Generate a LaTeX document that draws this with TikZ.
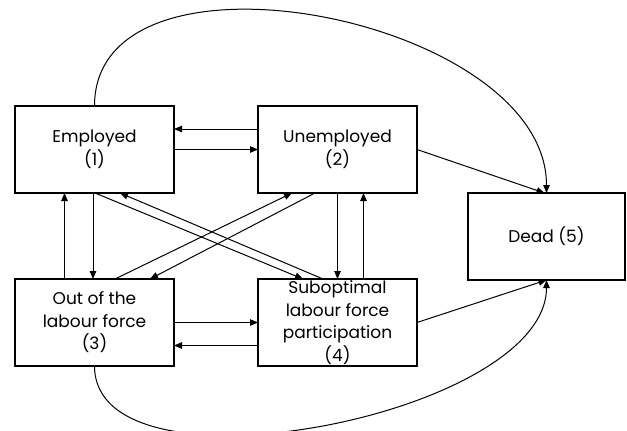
\documentclass[tikz,border=0pt]{standalone}
\usepackage{fontspec}
\setmainfont{Poppins}
\usetikzlibrary{arrows.meta,positioning}

\begin{document}
\begin{tikzpicture}[% styles for all the boxes and arrows, override case-by-case
			x=1pt,y=1pt,
			every node/.style={
				align=center,		% so that "\\" breaks the line
				inner sep=0pt,
				font=\fontsize{17}{22.5}\selectfont
			},
			state/.style={
				rectangle,draw=black,line width=1.2pt,outer sep=0pt,
				minimum width=159pt,minimum height=87pt	% same box for every state
			},
			every edge/.style={draw,line width=1pt,-{Triangle[length=8pt,width=6.5pt]}}
		]
		\useasboundingbox (0,0) rectangle (627,-431);
		\node[state](R1) at (94.5,-149.5){Employed \\ (1)};
		\node[state](R2)[right=84pt of R1]{Unemployed \\ (2)};
		\node[state](R3)[below=86pt of R1]{Out of the \\ labour force \\ (3)};
		\node[state](R4)[right=84pt of R3]{Suboptimal \\ labour force \\ participation \\ (4)};
		\node[state,minimum width=157pt](R5)[below right=0pt and 51pt of R2.south east]{Dead (5)};
		\path
		([yshift=20.5pt]R2.west)edge [] ([yshift=20.5pt]R1.east)
		(R1.east)edge [] (R2.west)
		([xshift=-1.5pt]R1.south)edge [] ([xshift=-1.5pt]R3.north)
		([xshift=-30pt]R3.north)edge [] ([xshift=-30pt]R1.south)
		(R2.south)edge [] (R4.north)
		([xshift=26pt]R4.north)edge [] ([xshift=26pt]R2.south)
		([xshift=0.5pt]R1.south)edge [] ([xshift=-34.5pt]R4.north)
		([xshift=-14.5pt]R4.north)edge [] ([xshift=25.5pt]R1.south)
		([xshift=20.5pt]R3.north)edge [] ([xshift=-45.5pt]R2.south)
		([xshift=-22.5pt]R2.south)edge [] ([xshift=55.5pt]R3.north)
		(R3.east)edge [] (R4.west)
		([yshift=-23pt]R4.west)edge [] ([yshift=-23pt]R3.east)
		(R2.east)edge [] ([xshift=-2pt]R5.north)
		(R4.east)edge [] (R5.south)
		(R1.north)edge [out=90,in=90,looseness=0.98] (R5.north)
		(R3.south)edge [out=-90,in=-90,looseness=0.76] (R5.south)
		;
	\end{tikzpicture}
\end{document}
